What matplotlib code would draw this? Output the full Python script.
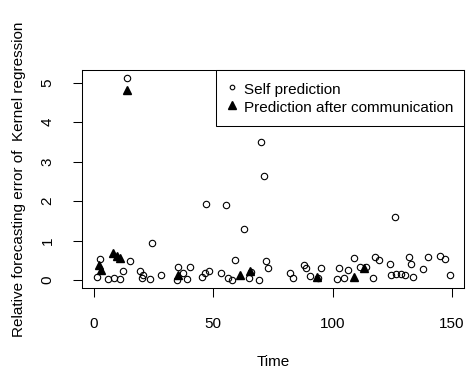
import matplotlib
matplotlib.use("Agg")
from matplotlib import pyplot

pyplot.rcParams["font.family"] = ["Liberation Sans", "DejaVu Sans"]

# Self prediction (open circles)
self_time = [1.1, 2.6, 5.7, 8.4, 10.9, 12.3, 14, 15.1, 19.3, 20, 20.7, 23.5, 24.2, 28,
             34.7, 35.4, 37.3, 39, 40.1, 45.4, 46.4, 47.1, 48.1, 53.1, 55.1, 56.2, 58,
             59, 62.9, 64.8, 65.7, 69.2, 69.9, 71.3, 72, 72.9, 82.1, 83.3, 87.9, 88.9,
             90.3, 94, 95.1, 101.8, 102.8, 104.6, 106.3, 109.1, 111.3, 114, 116.8,
             117.9, 119.4, 124.2, 124.6, 126.3, 126.4, 128.5, 130.5, 132, 132.9, 133.7,
             137.9, 140, 144.9, 147, 149.1]
self_error = [0.08, 0.52, 0.02, 0.06, 0.03, 0.23, 5.11, 0.49, 0.23, 0.06, 0.13, 0.03,
              0.93, 0.13, 0.0, 0.34, 0.17, 0.02, 0.34, 0.08, 0.17, 1.93, 0.24, 0.19,
              1.89, 0.06, 0.0, 0.51, 1.28, 0.06, 0.21, 0.0, 3.49, 2.63, 0.48, 0.3, 0.19,
              0.04, 0.38, 0.3, 0.11, 0.04, 0.3, 0.03, 0.3, 0.06, 0.25, 0.57, 0.34, 0.34,
              0.05, 0.58, 0.51, 0.4, 0.13, 1.6, 0.15, 0.15, 0.13, 0.58, 0.41, 0.08, 0.27,
              0.59, 0.62, 0.52, 0.13]

# Prediction after communication (filled triangles)
comm_time = [2.3, 2.8, 8.1, 9.5, 10.9, 14, 35, 61.1, 65.3, 93.3, 109.1, 113.3]
comm_error = [0.38, 0.26, 0.68, 0.62, 0.55, 4.81, 0.12, 0.13, 0.24, 0.07, 0.08, 0.3]

x_ticks = [0, 50, 100, 150]
y_ticks = [0, 1, 2, 3, 4, 5]

fs = 11
fig = pyplot.figure(figsize=(4.67, 3.69), dpi=100)
ax = fig.add_axes([82.3 / 467, 1 - 287.7 / 369, (463.7 - 82.3) / 467, (287.7 - 70) / 369])

ax.plot(self_time, self_error, "o", mfc="none", mec="black", mew=0.8, ms=4.6,
        label="Self prediction")
ax.plot(comm_time, comm_error, "^", color="black", ms=5.8, label="Prediction after communication")

ax.set_xlim(-4.9, 154.9)
ax.set_ylim(-0.195, 5.32)
ax.set_xticks(x_ticks)
ax.set_yticks(y_ticks)
ax.tick_params(direction="out", length=6.5, width=0.75, labelsize=fs, color="black")
ax.tick_params(axis="x", pad=14.3)
ax.tick_params(axis="y", pad=13.6)
pyplot.setp(ax.get_yticklabels(), rotation=90, va="center")
for s in ax.spines.values():
    s.set_linewidth(0.75)

ax.set_xlabel("Time", fontsize=fs, labelpad=17.6)
ax.set_ylabel("Relative forecasting error of  Kernel regression", fontsize=fs, labelpad=10.4)

leg = ax.legend(loc="upper right", bbox_to_anchor=(1, 1), borderaxespad=0, fontsize=fs,
                numpoints=1, fancybox=False, framealpha=1, edgecolor="black",
                borderpad=0.7, labelspacing=0.04, handleheight=1.33,
                handlelength=0.65, handletextpad=0.45)
leg.get_frame().set_linewidth(0.75)
leg.legend_handles[0].set_markersize(3.3)

fig.savefig("out.png", dpi=100)
